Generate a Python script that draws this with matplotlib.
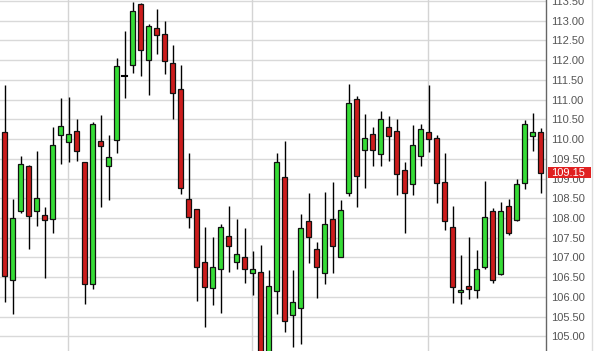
import matplotlib
matplotlib.use("Agg")
import matplotlib.pyplot as plt
from matplotlib.lines import Line2D
from matplotlib.patches import Rectangle
import numpy as np

opens = [110.17, 106.42, 108.18, 109.33, 108.17, 108.07, 107.97, 110.11, 109.92, 110.20,
         109.41, 106.32, 109.94, 109.31, 109.97, 111.60, 111.89, 113.42, 112.00, 112.81,
         112.66, 111.93, 111.26, 108.47, 108.24, 106.88, 106.22, 106.70, 107.54, 106.89,
         107.00, 106.60, 106.62, 104.50, 106.16, 109.03, 105.53, 105.71, 107.92, 107.21,
         106.60, 107.97, 107.00, 108.64, 111.01, 109.72, 110.12, 109.61, 110.30, 110.20,
         109.21, 108.85, 109.56, 110.17, 110.04, 108.92, 107.76, 106.12, 106.28, 106.17,
         106.75, 108.18, 106.59, 108.30, 107.96, 108.88, 110.07, 110.19]
highs = [111.37, 108.48, 109.57, 109.35, 109.70, 108.28, 110.31, 111.03, 111.07, 110.51,
         109.41, 110.44, 110.61, 110.10, 112.05, 112.74, 113.48, 113.45, 112.92, 113.30,
         112.99, 112.38, 111.88, 109.64, 108.24, 107.77, 107.52, 107.86, 108.30, 107.97,
         107.74, 107.17, 107.31, 106.68, 109.66, 109.95, 106.68, 108.09, 108.64, 107.38,
         108.66, 108.91, 108.46, 111.40, 111.09, 110.64, 110.31, 110.70, 110.59, 110.51,
         109.42, 110.36, 110.39, 111.36, 110.10, 109.66, 108.30, 107.06, 107.52, 107.19,
         108.94, 108.25, 108.40, 108.49, 108.98, 110.48, 110.65, 110.27]
lows = [105.86, 105.56, 108.12, 107.21, 107.80, 106.49, 107.63, 109.38, 109.43, 109.45,
        105.83, 106.20, 108.29, 108.46, 109.65, 111.05, 111.67, 111.60, 111.13, 112.15,
        111.64, 110.50, 108.62, 107.75, 105.90, 105.24, 105.79, 105.60, 106.64, 106.70,
        106.36, 106.06, 104.30, 104.40, 105.58, 105.12, 104.74, 104.82, 106.85, 105.98,
        106.33, 106.61, 107.00, 108.56, 108.29, 108.77, 109.33, 109.33, 109.45, 108.59,
        107.63, 108.59, 109.33, 109.68, 108.37, 107.69, 105.85, 105.81, 105.95, 105.98,
        106.70, 106.36, 106.55, 107.58, 107.93, 108.73, 109.70, 108.64]
closes = [106.54, 107.99, 109.36, 108.06, 108.50, 107.94, 109.84, 110.32, 110.12, 109.69,
          106.32, 110.37, 109.82, 109.54, 111.84, 111.60, 113.24, 112.25, 112.86, 112.63,
          111.99, 111.16, 108.75, 108.02, 106.75, 106.24, 106.76, 107.76, 107.30, 107.08,
          106.70, 106.70, 104.45, 106.27, 109.43, 105.40, 105.86, 107.74, 107.51, 106.75,
          107.84, 107.30, 108.20, 110.91, 109.06, 110.04, 109.72, 110.50, 110.07, 109.11,
          108.63, 109.84, 110.25, 109.99, 108.89, 107.92, 106.24, 106.17, 106.19, 106.70,
          108.02, 106.44, 108.19, 107.61, 108.85, 110.37, 110.19, 109.15]
price_ticks = [105.0, 105.5, 106.0, 106.5, 107.0, 107.5, 108.0, 108.5, 109.0, 109.5,
               110.0, 110.5, 111.0, 111.5, 112.0, 112.5, 113.0, 113.5]
vgrid_idx = [8, 31, 53]
last_price = 109.15

UP = '#36dc36'
DOWN = '#cc1c1c'
FONT = ['Liberation Sans', 'DejaVu Sans']

W, H = 610, 351
fig = plt.figure(figsize=(W / 100, H / 100), dpi=100)
ax = fig.add_axes([0, 0, 546 / W, 1])
ax.set_xlim(-0.59, 67.66)
ax.set_ylim(104.63, 113.525)

for t in price_ticks:
    ax.axhline(t, color='#d9d9d9', lw=1, zorder=0)
for v in vgrid_idx:
    ax.axvline(v - 0.05, color='#d4d4d4', lw=1, zorder=0)

w = 0.62
for i, (o, h, l, c) in enumerate(zip(opens, highs, lows, closes)):
    ax.plot([i, i], [l, h], color='black', lw=1, zorder=2, solid_capstyle='butt')
    if abs(c - o) < 0.02:
        ax.plot([i - w / 2, i + w / 2], [o, o], color='black', lw=1.5, zorder=3)
        continue
    col = UP if c >= o else DOWN
    lo, hi = min(o, c), max(o, c)
    ax.add_patch(Rectangle((i - w / 2, lo), w, hi - lo, facecolor=col,
                           edgecolor='#111111', lw=0.9, zorder=3))

for s in ['top', 'left', 'bottom']:
    ax.spines[s].set_visible(False)
ax.spines['right'].set_color('#666666')
ax.spines['right'].set_linewidth(1)
ax.set_xticks([])
ax.yaxis.tick_right()
ax.set_yticks(price_ticks)
ax.set_yticklabels([f'{t:.2f}' for t in price_ticks])
ax.tick_params(axis='y', length=0, pad=4, labelsize=8, labelcolor='#555555')
for lab in ax.get_yticklabels():
    lab.set_fontfamily(FONT)

# last price marker box
yb = ax.transData.transform((0, last_price))[1] / H
bh = 11 / H
fig.add_artist(Rectangle((548 / W, yb - bh / 2), 43 / W, bh, facecolor='#e02020',
                         edgecolor='none', transform=fig.transFigure, zorder=20))
fig.text(551 / W, yb, f'{last_price:.2f}', ha='left', va='center', fontsize=8,
         color='white', family=FONT, zorder=21)
fig.add_artist(Line2D([592 / W, 592 / W], [0, 1], color='#dddddd', lw=1))

fig.savefig('out.png', dpi=100)
